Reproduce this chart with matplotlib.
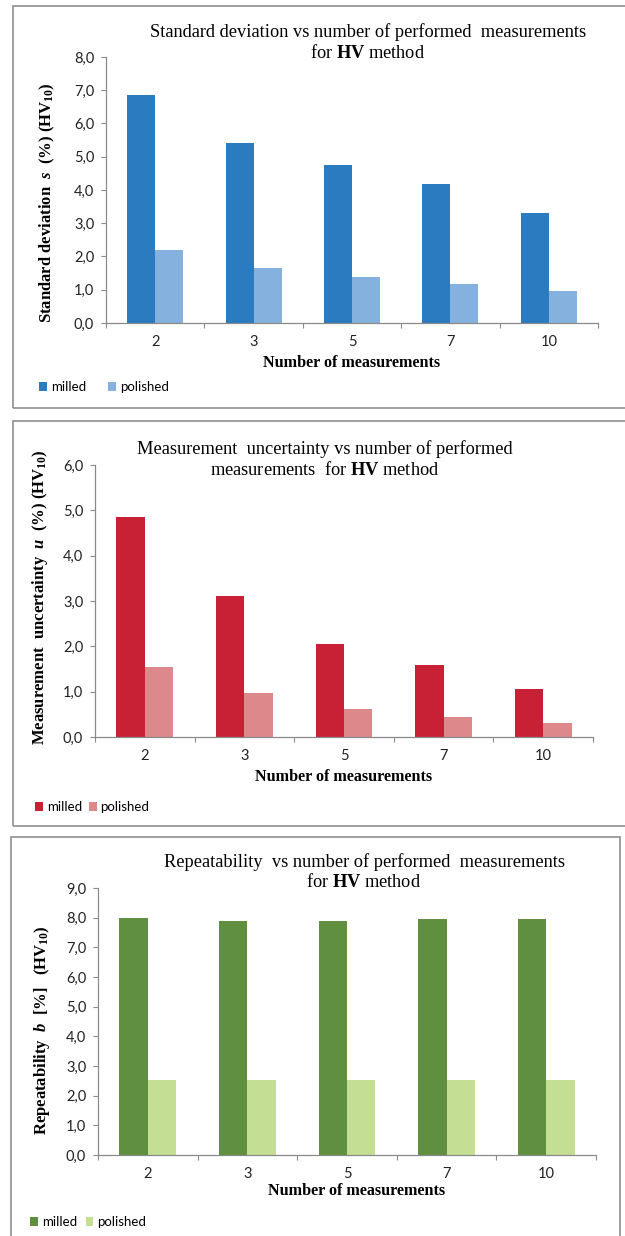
import matplotlib
matplotlib.use("Agg")
import matplotlib.pyplot as plt
import numpy as np
from matplotlib.patches import Rectangle

plt.rcParams['mathtext.fontset'] = 'custom'
plt.rcParams['mathtext.rm'] = 'Liberation Serif'
plt.rcParams['mathtext.bf'] = 'Liberation Serif:bold'
plt.rcParams['mathtext.it'] = 'Liberation Serif:italic:bold'

W, H = 625, 1236
DPI = 100

# Data
n_meas = ["2", "3", "5", "7", "10"]
series = ["milled", "polished"]

std_milled = [6.86, 5.40, 4.74, 4.19, 3.30]
std_polished = [2.19, 1.64, 1.38, 1.16, 0.95]

unc_milled = [4.85, 3.11, 2.05, 1.59, 1.05]
unc_polished = [1.54, 0.96, 0.62, 0.45, 0.31]

rep_milled = [7.99, 7.90, 7.90, 7.94, 7.95]
rep_polished = [2.53, 2.53, 2.53, 2.53, 2.53]

blue = ["#2b7bc0", "#85b1de"]
red = ["#c82034", "#dd888b"]
green = ["#5f8f3f", "#c4de94"]

SERIF = "Liberation Serif"
SANS = "Lato"
GREY = "#8a8a8a"
TICK_FS = 10.5

fig = plt.figure(figsize=(W / DPI, H / DPI), dpi=DPI)


def fx(px):
    return px / W


def fy(py):
    return 1 - py / H


def frame(x0, y0, x1, y1):
    fig.patches.append(Rectangle((fx(x0), fy(y1)), fx(x1 - x0), (y1 - y0) / H,
                                 transform=fig.transFigure, fill=False,
                                 edgecolor="#8f8f8f", linewidth=1.2))


def panel(box, ymax, milled, polished, colors, title1, title2, title_x, title_y,
          ylabel, ylab_pos, xlab_pos, leg_pos, colspace):
    x0, x1, ytop, ybot = box
    ax = fig.add_axes([fx(x0), fy(ybot), fx(x1 - x0), (ybot - ytop) / H])
    x = np.arange(len(n_meas))
    w = 0.285
    ax.bar(x - w / 2, milled, w, color=colors[0], label=series[0])
    ax.bar(x + w / 2, polished, w, color=colors[1], label=series[1])
    ax.set_xlim(-0.5, len(n_meas) - 0.5)
    ax.set_ylim(0, ymax)

    yt = np.arange(0, ymax + 0.5, 1.0)
    ax.set_yticks(yt)
    ax.set_yticklabels([f"{v:.1f}".replace(".", ",") for v in yt],
                       family=SANS, fontsize=TICK_FS, color="#222222")
    ax.set_xticks(x)
    ax.set_xticklabels(n_meas, family=SANS, fontsize=TICK_FS, color="#222222")
    ax.set_xticks(np.arange(-0.5, len(n_meas)), minor=True)
    ax.tick_params(axis="x", which="major", length=0, pad=9)
    ax.tick_params(axis="x", which="minor", length=3.5, color=GREY, width=0.8)
    ax.tick_params(axis="y", length=3.5, color=GREY, width=0.8, pad=5)

    for s in ["top", "right"]:
        ax.spines[s].set_visible(False)
    for s in ["left", "bottom"]:
        ax.spines[s].set_color(GREY)
        ax.spines[s].set_linewidth(0.9)

    fig.text(fx(title_x), fy(title_y[0]), title1, family=SERIF, fontsize=13.2,
             ha="center", va="center")
    fig.text(fx(title_x), fy(title_y[1]), title2, family=SERIF, fontsize=13.2,
             ha="center", va="center")
    fig.text(fx(ylab_pos[0]), fy(ylab_pos[1]), ylabel, family=SERIF,
             fontsize=12, fontweight="bold", rotation=90, ha="center", va="center")
    fig.text(fx(xlab_pos[0]), fy(xlab_pos[1]), "Number of measurements",
             family=SERIF, fontsize=11.6, fontweight="bold", ha="center", va="center")

    ax.legend(loc="center left", bbox_to_anchor=(fx(leg_pos[0]), fy(leg_pos[1])),
              bbox_transform=fig.transFigure, ncol=2, frameon=False,
              prop={"family": SANS, "size": 9.5}, handlelength=0.6, handleheight=0.6,
              handletextpad=0.3, columnspacing=colspace, borderpad=0, borderaxespad=0)
    return ax


# standard deviation
frame(13, 6, 640, 408)
panel((106, 598, 57, 323), 8, std_milled, std_polished, blue,
      "Standard deviation vs number of performed  measurements",
      r"for $\mathbf{HV}$ method", 368, (32, 53),
      r"Standard deviation  $\mathit{s}$  (%) (HV$_{\mathbf{10}}$)",
      (47, 203), (352, 363), (39, 387), 1.65)

# measurement uncertainty
frame(13, 421, 640, 826)
panel((95, 593, 465, 737), 6, unc_milled, unc_polished, red,
      "Measurement  uncertainty vs number of performed",
      r"measurements  for $\mathbf{HV}$ method", 325, (449, 470),
      r"Measurement  uncertainty  $\mathit{u}$  (%) (HV$_{\mathbf{10}}$)",
      (40, 597), (344, 777), (35, 807), 0.5)

# repeatability
frame(11, 837, 620, 1250)
panel((98, 596, 888, 1155), 9, rep_milled, rep_polished, green,
      "Repeatability  vs number of performed  measurements",
      r"for $\mathbf{HV}$ method", 364, (862, 882),
      r"Repeatability  $\mathit{b}$  [%]   (HV$_{\mathbf{10}}$)",
      (42, 1030), (357, 1191), (30, 1222), 0.65)

fig.savefig("out.png", dpi=DPI)
